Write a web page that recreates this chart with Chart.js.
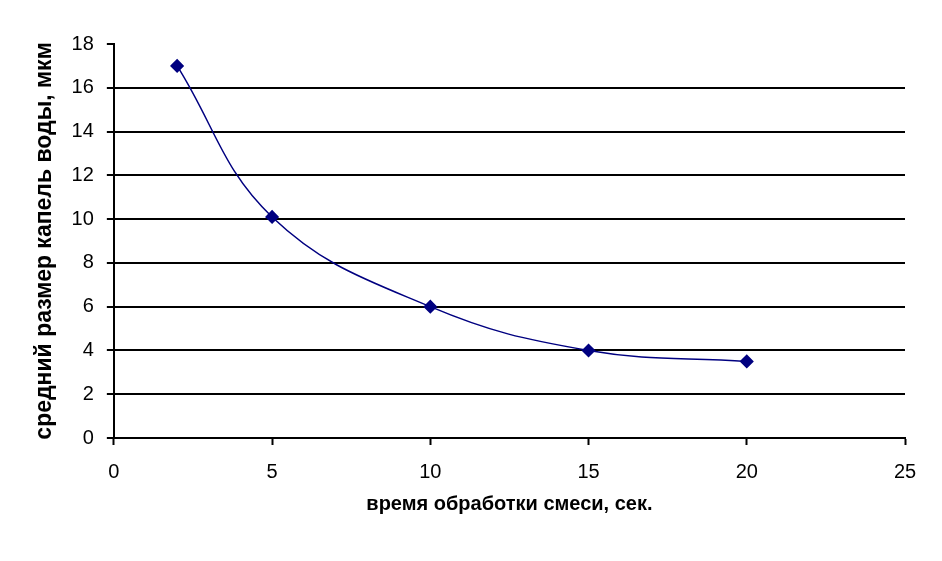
<!DOCTYPE html>
<html>
<head>
<meta charset="utf-8">
<script src="https://cdn.jsdelivr.net/npm/chart.js@4"></script>
<style>
  html, body { margin: 0; padding: 0; background: #fff; }
  #wrap { width: 942px; height: 561px; }
</style>
</head>
<body>
<div id="wrap"><canvas id="chart" width="942" height="561"></canvas></div>
<script>
const times = [2, 5, 10, 15, 20];
const dropSizes = [17, 10.1, 6, 4, 3.5];
const xTitle = 'время обработки смеси, сек.';
const yTitle = 'средний размер капель воды, мкм';

const points = times.map((t, i) => ({ x: t, y: dropSizes[i] }));

const ctx = document.getElementById('chart').getContext('2d');
new Chart(ctx, {
  type: 'scatter',
  data: {
    datasets: [{
      data: points,
      showLine: true,
      borderColor: '#000080',
      backgroundColor: '#000080',
      borderWidth: 1.5,
      tension: 0.4,
      pointStyle: 'rectRot',
      pointRadius: 6,
      pointHoverRadius: 6
    }]
  },
  options: {
    responsive: false,
    animation: false,
    layout: { padding: { top: 44, right: 37, bottom: 45, left: 27 } },
    plugins: {
      legend: { display: false },
      tooltip: { enabled: false }
    },
    scales: {
      x: {
        type: 'linear',
        min: 0,
        max: 25,
        ticks: {
          stepSize: 5,
          color: '#000',
          font: { family: 'Liberation Sans, Arial', size: 20 },
          padding: 15
        },
        grid: {
          drawOnChartArea: false,
          tickColor: '#000',
          tickLength: 7,
          tickWidth: 2
        },
        border: { color: '#000', width: 2 },
        title: {
          display: true,
          text: xTitle,
          color: '#000',
          font: { family: 'Liberation Sans, Arial', size: 20, weight: 'bold' },
          padding: { top: -7, bottom: 0 }
        }
      },
      y: {
        min: 0,
        max: 18,
        ticks: {
          stepSize: 2,
          color: '#000',
          font: { family: 'Liberation Sans, Arial', size: 20 },
          padding: 13
        },
        grid: {
          color: c => c.tick && c.tick.value === 18 ? 'rgba(0,0,0,0)' : '#000',
          lineWidth: 2,
          tickColor: '#000',
          tickLength: 7
        },
        border: { color: '#000', width: 2 },
        title: {
          display: true,
          text: yTitle,
          color: '#000',
          font: { family: 'Liberation Sans, Arial', size: 23, weight: 'bold' },
          padding: { top: 4, bottom: 0 }
        }
      }
    }
  }
});
</script>
</body>
</html>
